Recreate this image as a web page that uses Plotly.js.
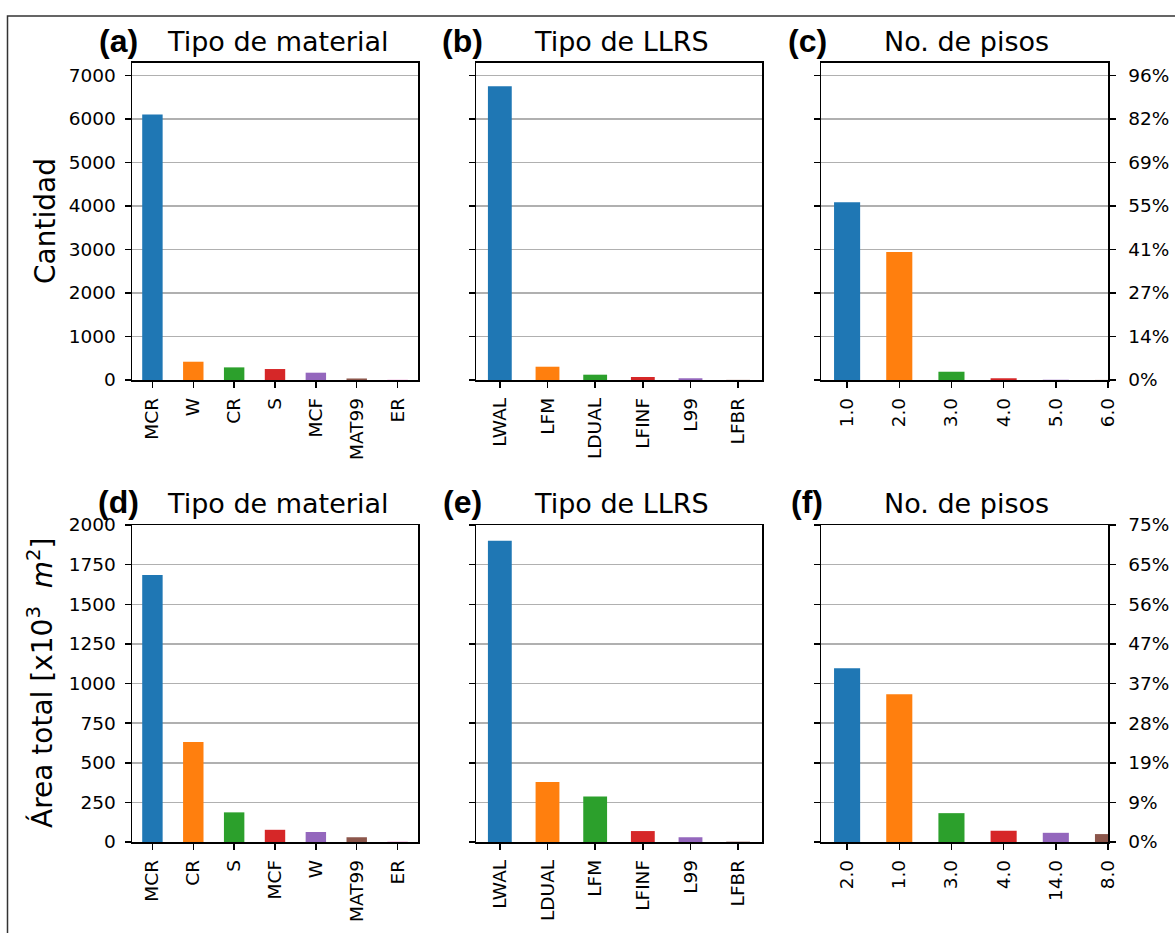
<!DOCTYPE html>
<html>
<head>
<meta charset="utf-8">
<script src="https://cdn.plot.ly/plotly-3.0.1.min.js"></script>
<style>html,body{margin:0;padding:0;background:#fff;}#chart{width:1175px;height:933px;}</style>
</head>
<body>
<div id="chart"></div>
<script>
// ---- data ----
const materialCountCats = ['MCR','W','CR','S','MCF','MAT99','ER'];
const materialCountVals = [6100, 420, 290, 252, 168, 35, 5];
const llrsCountCats = ['LWAL','LFM','LDUAL','LFINF','L99','LFBR'];
const llrsCountVals = [6750, 305, 122, 69, 40, 3];
const floorsCountCats = ['1.0','2.0','3.0','4.0','5.0','6.0'];
const floorsCountVals = [4085, 2938, 190, 40, 6, 2];

const materialAreaCats = ['MCR','CR','S','MCF','W','MAT99','ER'];
const materialAreaVals = [1684, 631, 187, 77, 63, 30, 2];
const llrsAreaCats = ['LWAL','LDUAL','LFM','LFINF','L99','LFBR'];
const llrsAreaVals = [1900, 379, 287, 69, 30, 2];
const floorsAreaCats = ['2.0','1.0','3.0','4.0','14.0','8.0'];
const floorsAreaVals = [1096, 932, 182, 71, 58, 50];

const countTicks = [0,1000,2000,3000,4000,5000,6000,7000];
const countPctLabels = ['0%','14%','27%','41%','55%','69%','82%','96%'];
const areaTicks = [0,250,500,750,1000,1250,1500,1750,2000];
const areaPctLabels = ['0%','9%','19%','28%','37%','47%','56%','65%','75%'];

const panelLetters = ['(a)','(b)','(c)','(d)','(e)','(f)'];
const panelTitles = ['Tipo de material','Tipo de LLRS','No. de pisos','Tipo de material','Tipo de LLRS','No. de pisos'];
const yTitleTop = 'Cantidad';
const yTitleBottom = 'Área total [x10<sup>3</sup>  <i>m</i><sup>2</sup>]';

// ---- style ----
const W = 1175, H = 933;
const tab10 = ['#1f77b4','#ff7f0e','#2ca02c','#d62728','#9467bd','#8c564b','#e377c2'];
const px = x => x / W;
const py = y => 1 - y / H;
const colsX = [[132,418],[476,762],[821,1108]];
const rowsY = [[62.7,380],[525,842]];
const tickFont = {family:'DejaVu Sans', size:18.5, color:'#000'};

const cats = [materialCountCats, llrsCountCats, floorsCountCats, materialAreaCats, llrsAreaCats, floorsAreaCats];
const vals = [materialCountVals, llrsCountVals, floorsCountVals, materialAreaVals, llrsAreaVals, floorsAreaVals];

const data = [];
const layout = {
  width: W, height: H,
  margin: {l:0, r:0, t:0, b:0},
  paper_bgcolor: '#fff', plot_bgcolor: '#fff',
  showlegend: false,
  font: {family:'DejaVu Sans', color:'#000'},
  annotations: [],
  shapes: [{
    type:'rect', xref:'paper', yref:'paper',
    x0: px(7.5), x1: px(1190), y0: py(16), y1: py(950),
    line:{color:'#333', width:1.5}, fillcolor:'rgba(0,0,0,0)', layer:'above'
  }]
};

for (let i = 0; i < 6; i++) {
  const row = Math.floor(i / 3), col = i % 3;
  const n = i + 1;
  const xa = n === 1 ? 'xaxis' : 'xaxis' + n;
  const ya = n === 1 ? 'yaxis' : 'yaxis' + n;
  const xr = n === 1 ? 'x' : 'x' + n;
  const yr = n === 1 ? 'y' : 'y' + n;
  data.push({
    type:'bar', x: cats[i], y: vals[i], xaxis: xr, yaxis: yr,
    width: 0.5, marker:{color: tab10.slice(0, cats[i].length), line:{width:0}},
    cliponaxis: true
  });
  const nc = cats[i].length;
  const xrange = col === 2 ? [-0.5, nc - 1] : [-0.5, nc - 0.5];
  layout[xa] = {
    domain: [px(colsX[col][0]), px(colsX[col][1])],
    anchor: yr, type:'category', range: xrange,
    tickangle: -90, ticks:'outside', ticklen:6, tickwidth:1.5, tickcolor:'#000',
    ticklabelstandoff: 3,
    showline:true, linecolor:'#000', linewidth:1.5, mirror:true,
    showgrid:false, zeroline:false, tickfont: tickFont, automargin:false, fixedrange:true
  };
  const isTop = row === 0;
  const yax = {
    domain: [py(rowsY[row][1]), py(rowsY[row][0])],
    anchor: xr,
    range: isTop ? [0, 7290] : [0, 2000],
    tickmode:'array', tickvals: isTop ? countTicks : areaTicks,
    ticks:'outside', ticklen:6, tickwidth:1.5, tickcolor:'#000',
    ticklabelstandoff: 5,
    showline:true, linecolor:'#000', linewidth:1.5, mirror:true,
    showgrid:true, gridcolor:'#b0b0b0', gridwidth:1.5, zeroline:false,
    tickfont: tickFont, automargin:false, fixedrange:true
  };
  if (col === 1) { yax.showticklabels = false; }
  if (col === 2) {
    yax.side = 'right'; yax.mirror = 'ticks';
    yax.ticktext = isTop ? countPctLabels : areaPctLabels;
    yax.ticklabelstandoff = 9;
  }
  layout[ya] = yax;

  const cx = (colsX[col][0] + colsX[col][1]) / 2;
  const ty = row === 0 ? 42 : 503;
  layout.annotations.push({
    xref:'paper', yref:'paper', x: px(cx + 2), y: py(ty), xanchor:'center', yanchor:'middle',
    text: panelTitles[i], showarrow:false, font:{family:'DejaVu Sans', size:27, color:'#000'}
  });
  layout.annotations.push({
    xref:'paper', yref:'paper', x: px(colsX[col][0] - 14), y: py(ty - 1), xanchor:'center', yanchor:'middle',
    text: '<b>' + panelLetters[i] + '</b>', showarrow:false, font:{family:'Liberation Sans', size:32, color:'#000'}
  });
}

layout.annotations.push({
  xref:'paper', yref:'paper', x: px(45), y: py(221), xanchor:'center', yanchor:'middle',
  text: yTitleTop, textangle:-90, showarrow:false, font:{family:'DejaVu Sans', size:28, color:'#000'}
});
layout.annotations.push({
  xref:'paper', yref:'paper', x: px(40), y: py(683), xanchor:'center', yanchor:'middle',
  text: yTitleBottom, textangle:-90, showarrow:false, font:{family:'DejaVu Sans', size:28, color:'#000'}
});

Plotly.newPlot('chart', data, layout, {displayModeBar:false, staticPlot:true});
</script>
</body>
</html>
